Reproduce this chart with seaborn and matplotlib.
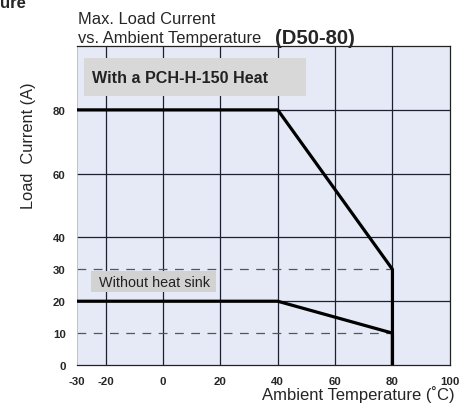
import pandas as pd
import matplotlib.pyplot as plt
import seaborn as sns
from matplotlib.patches import Rectangle

# Derating curves
temp_heatsink = [-30, 40, 80, 80]
curr_heatsink = [80, 80, 30, 0]
temp_no_sink = [-30, 40, 80, 80]
curr_no_sink = [20, 20, 10, 0]

x_ticks = [-30, -20, 0, 20, 40, 60, 80, 100]
y_ticks = [0, 10, 20, 30, 40, 60, 80]
x_grid = [-20, 0, 20, 40, 60, 80]
y_grid_solid = [20, 40, 60, 80]
y_grid_dashed = [10, 30]

sns.set_style("white")
plt.rcParams['font.family'] = ['Liberation Sans', 'DejaVu Sans']
plt.rcParams['axes.unicode_minus'] = False

df = pd.concat([
    pd.DataFrame({'temp': temp_heatsink, 'current': curr_heatsink, 'case': 'heatsink'}),
    pd.DataFrame({'temp': temp_no_sink, 'current': curr_no_sink, 'case': 'none'}),
])

fig = plt.figure(figsize=(4.72, 4.06), dpi=100)
ax = fig.add_axes([0.163, 0.0985, 0.79, 0.7855])
ax.set_facecolor('#e6eaf6')

# grid
for x in x_grid:
    ax.axvline(x, color='#1c2030', lw=0.9, zorder=1)
for y in y_grid_solid:
    ax.axhline(y, color='#1c2030', lw=0.9, zorder=1)
for y in y_grid_dashed:
    ax.plot([-30, 80], [y, y], color='#555555', lw=0.9, ls=(0, (7, 6)), zorder=1)

for case in ['heatsink', 'none']:
    sub = df[df['case'] == case]
    sns.lineplot(data=sub, x='temp', y='current', ax=ax, color='black', lw=2.3,
                 sort=False, estimator=None, zorder=3)

ax.set_xlim(-30, 100)
ax.set_ylim(0, 100)
ax.set_xticks(x_ticks)
ax.set_yticks(y_ticks)
ax.tick_params(length=0, labelsize=8.2, pad=8)
for lbl in ax.get_xticklabels() + ax.get_yticklabels():
    lbl.set_fontweight('bold')

for side in ['top', 'right', 'bottom']:
    ax.spines[side].set_color('#222222')
    ax.spines[side].set_linewidth(0.9)
ax.spines['left'].set_color('#bbbbbb')
ax.spines['left'].set_linewidth(0.6)

ax.set_xlabel('')
ax.set_ylabel('')

# labels inside plot
ax.add_patch(Rectangle((-27.6, 84.3), 77.4, 11.9, fc='#d8d8d8', ec='none', zorder=4))
ax.text(-24.8, 90.3, 'With a PCH-H-150 Heat', fontsize=11.6, fontweight='bold',
        color='#222222', va='center', ha='left', zorder=5)
ax.add_patch(Rectangle((-25.1, 22.9), 43.5, 6.6, fc='#d2d2d2', ec='none', zorder=4))
ax.text(-22.3, 26.0, 'Without heat sink', fontsize=10.4, color='#222222',
        va='center', ha='left', zorder=5)

# figure texts
fig.text(0.0, 1 - 11 / 406, 'ure', fontsize=12, fontweight='bold', va='bottom', ha='left')
fig.text(78 / 472, 1 - 20 / 406, 'Max. Load Current', fontsize=11.9, va='center', ha='left')
fig.text(78 / 472, 1 - 38 / 406, 'vs. Ambient Temperature', fontsize=11.9, va='center', ha='left')
fig.text(275 / 472, 1 - 39 / 406, '(D50-80)', fontsize=14.6, fontweight='bold',
         va='center', ha='left')
fig.text(28 / 472, 1 - 146 / 406, 'Load  Current (A)', fontsize=11.8, rotation=90,
         va='center', ha='center')
fig.text(455 / 472, 1 - 395 / 406, 'Ambient Temperature (˚C)', fontsize=12,
         va='center', ha='right')

fig.savefig('out.png', dpi=100)
